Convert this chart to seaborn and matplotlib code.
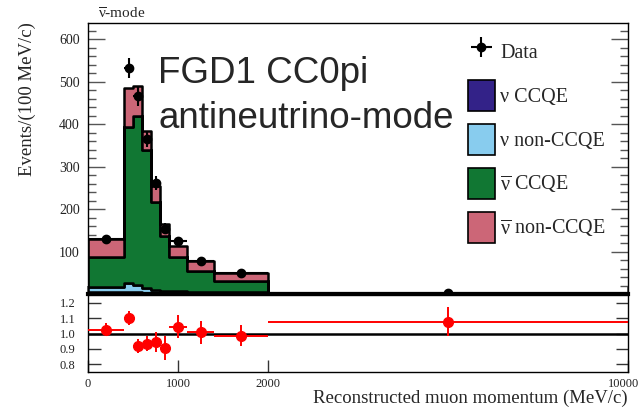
import numpy as np
import pandas as pd
import matplotlib
matplotlib.use("Agg")
import matplotlib.pyplot as plt
import matplotlib.transforms as mtransforms
import seaborn as sns
from matplotlib.patches import Patch
from matplotlib.ticker import MultipleLocator, FixedLocator, FuncFormatter, NullFormatter

# Reconstructed muon momentum binning (MeV/c)
edges = [0, 400, 500, 600, 700, 800, 900, 1100, 1400, 2000, 10000]

# MC prediction per component, events / (100 MeV/c)
nu_ccqe = [4, 5, 5, 3, 2, 2, 1.5, 1, 1, 0.1]
nu_nonccqe = [13, 20, 17, 10, 7, 5, 4.5, 4, 3, 0.2]
nubar_ccqe = [71, 368, 397, 325, 207, 129, 81, 49, 26, 1.0]
nubar_nonccqe = [41, 91, 70, 45, 38, 28, 27, 23, 19, 0.7]

# Measured data, events / (100 MeV/c)
data_vals = [130, 532, 465, 365, 262, 154, 124, 77, 49, 2]
data_err = [6, 23, 22, 19, 16, 12, 8, 5, 3, 0.5]

# Data / MC ratio
ratio_vals = [1.025, 1.10, 0.92, 0.935, 0.946, 0.905, 1.044, 1.007, 0.986, 1.077]
ratio_err = [0.044, 0.047, 0.047, 0.05, 0.063, 0.077, 0.074, 0.077, 0.07, 0.095]

# Momentum tick positions and labels
x_ticks = [0, 1000, 2000, 10000]
x_ticklabels = ["0", "1000", "2000", "10000"]

lab_nu_ccqe = "\u03bd CCQE"
lab_nu_non = "\u03bd non-CCQE"
lab_nubar_ccqe = r"$\overline{\mathrm{\nu}}$ CCQE"
lab_nubar_non = r"$\overline{\mathrm{\nu}}$ non-CCQE"

colors = {
    lab_nu_ccqe: "#332288",
    lab_nu_non: "#88CCEE",
    lab_nubar_ccqe: "#117733",
    lab_nubar_non: "#CC6677",
}

edges_a = np.array(edges, dtype=float)
lo, hi = edges_a[:-1], edges_a[1:]
centers = 0.5 * (lo + hi)
nbins = len(centers)

df = pd.DataFrame({
    "momentum": np.tile(centers, 4),
    "events": np.concatenate([nu_ccqe, nu_nonccqe, nubar_ccqe, nubar_nonccqe]),
    "component": np.repeat([lab_nu_ccqe, lab_nu_non, lab_nubar_ccqe, lab_nubar_non], nbins),
})

sns.set_theme(style="ticks")
plt.rcParams["font.family"] = ["Liberation Serif", "DejaVu Serif"]
plt.rcParams["mathtext.fontset"] = "custom"
plt.rcParams["mathtext.rm"] = "Liberation Serif"
plt.rcParams["mathtext.it"] = "Liberation Serif:italic"
plt.rcParams["mathtext.bf"] = "Liberation Serif:bold"

W, H = 640, 407
fig = plt.figure(figsize=(W / 100, H / 100), dpi=100)
ax = fig.add_axes([88 / W, 1 - 294 / H, 540 / W, (294 - 23) / H])
rax = fig.add_axes([88 / W, 1 - 372 / H, 540 / W, (372 - 295) / H])


# Momentum axis: linear up to 2 GeV/c, compressed beyond
def fwd(x):
    x = np.asarray(x, dtype=float)
    return np.where(x <= 2000, x, 2000 + (x - 2000) / 2.0)


def inv(u):
    u = np.asarray(u, dtype=float)
    return np.where(u <= 2000, u, 2000 + (u - 2000) * 2.0)


for a in (ax, rax):
    a.set_xscale("function", functions=(fwd, inv))

# Stacked MC prediction
sns.histplot(
    data=df, x="momentum", weights="events", hue="component",
    hue_order=[lab_nubar_non, lab_nubar_ccqe, lab_nu_non, lab_nu_ccqe],
    palette=colors, bins=edges, multiple="stack", element="step",
    fill=True, alpha=1.0, edgecolor="black", linewidth=1.8,
    legend=False, ax=ax,
)

# Data points
xerr = [centers - lo, hi - centers]
data_h = ax.errorbar(centers, data_vals, yerr=data_err, xerr=xerr, fmt="o",
                     color="black", ms=6, elinewidth=1.5, capsize=0, zorder=6)

ax.set_xlim(0, 10000)
ax.set_ylim(0, 638)
ax.set_xlabel("")
ax.set_ylabel("")
ax.xaxis.set_major_locator(FixedLocator(x_ticks))
ax.xaxis.set_major_formatter(NullFormatter())
ax.xaxis.set_minor_locator(FixedLocator([]))
ax.yaxis.set_major_locator(MultipleLocator(100))
ax.yaxis.set_minor_locator(MultipleLocator(20))
ax.yaxis.set_major_formatter(FuncFormatter(lambda v, p: "" if v == 0 else f"{v:.0f}"))
ax.tick_params(axis="y", which="major", direction="in", length=12.5, width=1.0,
               color="#555555", left=True, right=True, labelsize=10,
               labelcolor="#222222", pad=6)
ax.tick_params(axis="y", which="minor", direction="in", length=6, width=1.0,
               color="#555555", left=True, right=True)
ax.tick_params(axis="x", which="major", direction="in", length=6, color="#555555")
for s in ax.spines.values():
    s.set_linewidth(1.0)
    s.set_color("black")
ax.spines["bottom"].set_linewidth(3.0)

# Legend
handles = [data_h] + [Patch(facecolor=colors[k], edgecolor="black", linewidth=1.2)
                      for k in [lab_nu_ccqe, lab_nu_non, lab_nubar_ccqe, lab_nubar_non]]
labels = ["Data", lab_nu_ccqe, lab_nu_non, lab_nubar_ccqe, lab_nubar_non]
fig.legend(handles, labels, loc="upper left", bbox_to_anchor=(468 / W, 1 - 36 / H),
           frameon=False, fontsize=14.5, handlelength=1.34, handleheight=1.99,
           handletextpad=0.25, labelspacing=0.65, borderpad=0, borderaxespad=0)

# Ratio panel
rax.axhline(1.0, color="black", lw=1.8, zorder=2)
rax.errorbar(centers, ratio_vals, yerr=ratio_err, xerr=xerr, fmt="o", color="red",
             ms=7, elinewidth=1.4, capsize=0, zorder=4)
rax.set_xlim(0, 10000)
rax.set_ylim(0.75, 1.25)
rax.xaxis.set_major_locator(FixedLocator(x_ticks))
rax.set_xticklabels(x_ticklabels)
rax.xaxis.set_minor_locator(FixedLocator([]))
rax.yaxis.set_major_locator(FixedLocator([0.8, 0.9, 1.0, 1.1, 1.2]))
rax.yaxis.set_major_formatter(FuncFormatter(lambda v, p: f"{v:.1f}"))
rax.yaxis.set_minor_locator(FixedLocator([]))
rax.tick_params(axis="y", direction="in", length=9, width=1.0, color="#333333",
                left=True, right=True, labelsize=9, labelcolor="#222222", pad=9)
rax.tick_params(axis="x", direction="in", length=9, width=1.0, color="#333333",
                labelsize=9, labelcolor="#222222", pad=4)
for s in rax.spines.values():
    s.set_linewidth(1.0)
    s.set_color("black")

# Keep the last momentum label inside the canvas
last_lbl = rax.get_xticklabels()[-1]
last_lbl.set_transform(last_lbl.get_transform()
                       + mtransforms.ScaledTranslation(-4 / 100, 0, fig.dpi_scale_trans))

# Labels and annotations
fig.text(628 / W, 1 - 403 / H, "Reconstructed muon momentum (MeV/c)", ha="right",
         va="baseline", fontsize=13.5)
fig.text(27 / W, 1 - 22 / H, "Events/(100 MeV/c)", ha="center", va="top",
         rotation=90, fontsize=13.5)
fig.text(98 / W, 1 - 14 / H, r"$\overline{\mathrm{\nu}}$-mode", ha="left", va="center",
         fontsize=11)
fig.text(158 / W, 1 - 83 / H, "FGD1 CC0pi", ha="left", va="baseline",
         fontsize=26.5, family="Liberation Sans")
fig.text(158 / W, 1 - 128 / H, "antineutrino-mode", ha="left", va="baseline",
         fontsize=26.5, family="Liberation Sans")

fig.savefig("out.png", dpi=100)
